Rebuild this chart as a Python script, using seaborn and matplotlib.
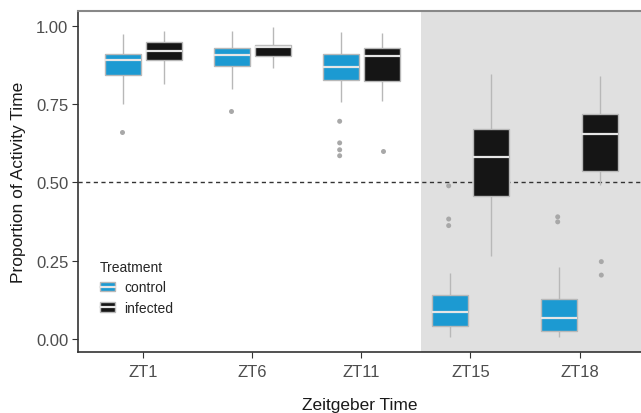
import numpy as np
import pandas as pd
import matplotlib
matplotlib.use("Agg")
import matplotlib.pyplot as plt
from matplotlib.patches import Patch
from matplotlib.lines import Line2D
import seaborn as sns

times = ["ZT1", "ZT6", "ZT11", "ZT15", "ZT18"]
treatments = ["control", "infected"]

# box summaries: whisker low, q1, median, q3, whisker high
control_lo  = [0.750, 0.798, 0.755, 0.005, 0.005]
control_q1  = [0.842, 0.872, 0.826, 0.042, 0.027]
control_med = [0.891, 0.907, 0.868, 0.087, 0.066]
control_q3  = [0.910, 0.929, 0.910, 0.140, 0.128]
control_hi  = [0.973, 0.982, 0.979, 0.210, 0.229]

infected_lo  = [0.814, 0.865, 0.761, 0.264, 0.492]
infected_q1  = [0.890, 0.902, 0.822, 0.457, 0.535]
infected_med = [0.920, 0.931, 0.904, 0.582, 0.654]
infected_q3  = [0.947, 0.939, 0.929, 0.670, 0.718]
infected_hi  = [0.982, 0.995, 0.976, 0.846, 0.840]

# outliers
out_time  = ["ZT1", "ZT6", "ZT11", "ZT11", "ZT11", "ZT11", "ZT15", "ZT15", "ZT15",
             "ZT18", "ZT18", "ZT11", "ZT18", "ZT18"]
out_treat = ["control"] * 11 + ["infected"] * 3
out_value = [0.660, 0.729, 0.695, 0.626, 0.604, 0.585, 0.489, 0.383, 0.362,
             0.390, 0.374, 0.601, 0.247, 0.204]

blue = "#1c9ad2"
black = "#151515"

rows = []
for i, t in enumerate(times):
    for v in (control_lo[i], control_q1[i], control_med[i], control_q3[i], control_hi[i]):
        rows.append((t, "control", v))
    for v in (infected_lo[i], infected_q1[i], infected_med[i], infected_q3[i], infected_hi[i]):
        rows.append((t, "infected", v))
df = pd.DataFrame(rows, columns=["time", "treatment", "value"])
out_df = pd.DataFrame({"time": out_time, "treatment": out_treat, "value": out_value})

sns.set_theme(style="white")
plt.rcParams["font.family"] = ["Liberation Sans", "DejaVu Sans"]

fig = plt.figure(figsize=(6.41, 4.14), dpi=100)
ax = fig.add_axes([78 / 641, 1 - 352.7 / 414, (641 - 78) / 641, 340.4 / 414])

ax.axvspan(2.55, 5, color="#e0e0e0", zorder=0, lw=0)
ax.axhline(0.5, color="#333333", lw=1, ls=(0, (3, 2.5)), zorder=1)

sns.boxplot(data=df, x="time", y="value", hue="treatment", order=times,
            hue_order=treatments, palette={"control": blue, "infected": black},
            whis=np.inf, width=0.75, gap=0.12, saturation=1,
            linecolor="#b8b8b8", linewidth=1, showcaps=False,
            medianprops=dict(color="#e6e6e6", linewidth=1.6),
            legend=False, ax=ax, zorder=2)

sns.stripplot(data=out_df, x="time", y="value", hue="treatment", order=times,
              hue_order=treatments, palette={"control": "#a8a8a8", "infected": "#a8a8a8"},
              dodge=True, jitter=False, size=3.6, linewidth=0, legend=False, ax=ax, zorder=3)

ax.set_xlim(-0.6, 4.564)
ax.set_ylim(-0.0405, 1.046)
ax.set_yticks([0, 0.25, 0.5, 0.75, 1.0])
ax.set_yticklabels(["0.00", "0.25", "0.50", "0.75", "1.00"])
ax.tick_params(axis="both", length=4, width=0.8, color="#333333",
               labelsize=12, labelcolor="#4d4d4d", left=True, bottom=True)
ax.tick_params(axis="y", pad=3)
ax.tick_params(axis="x", pad=5)

ax.set_xlabel("Zeitgeber Time", fontsize=12.5, color="#1a1a1a", labelpad=13)
ax.set_ylabel("Proportion of Activity Time", fontsize=12.5, color="#1a1a1a", labelpad=7)

for side in ["left", "bottom"]:
    ax.spines[side].set_color("#333333")
    ax.spines[side].set_linewidth(1.2)
ax.spines["top"].set_color("#888888")
ax.spines["top"].set_linewidth(1.5)
ax.spines["right"].set_visible(False)

handles = [
    (Patch(facecolor=blue, edgecolor="#b8b8b8"), Line2D([], [], color="#e6e6e6", lw=1.6)),
    (Patch(facecolor=black, edgecolor="#b8b8b8"), Line2D([], [], color="#e6e6e6", lw=1.6)),
]
leg = ax.legend(handles, treatments, title="Treatment", loc="lower left",
                bbox_to_anchor=(0.017, 0.072), frameon=False, fontsize=10,
                title_fontsize=10, handlelength=1.1, handleheight=0.7,
                handletextpad=0.65, labelspacing=0.45)
leg._legend_box.align = "left"

plt.savefig("out.png", dpi=100)
